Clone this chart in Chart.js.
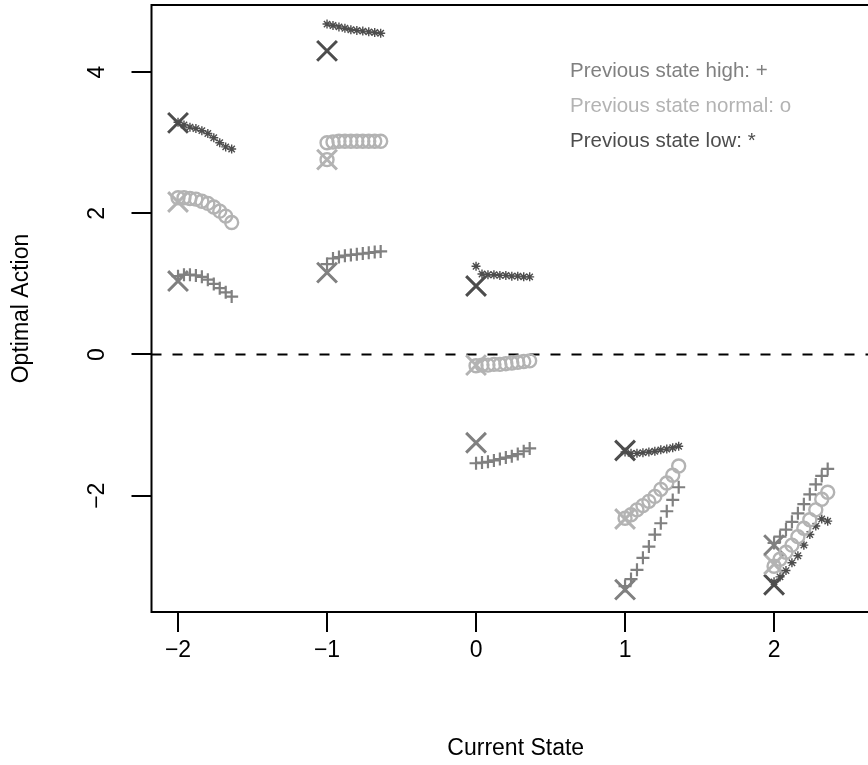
<!DOCTYPE html>
<html><head><meta charset="utf-8">
<script src="https://cdn.jsdelivr.net/npm/chart.js@4.4.0/dist/chart.umd.min.js"></script>
<style>
html,body{margin:0;padding:0;background:#fff;overflow:hidden}
#wrap{width:868px;height:765px;overflow:hidden;position:relative;background:#fff}
#box{width:900px;height:765px;position:absolute;left:0;top:0}
</style></head><body>
<div id="wrap"><div id="box"><canvas id="c"></canvas></div></div>
<script>
// ---- data ----
const states = [-2, -1, 0, 1, 2];
const xTickValues = [-2, -1, 0, 1, 2];
const yTickValues = [-2, 0, 2, 4];
const stepOffsets = [0, 0.04, 0.08, 0.12, 0.16, 0.20, 0.24, 0.28, 0.32, 0.36];

const highX   = [1.04, 1.16, -1.25, -3.33, -2.70];
const normalX = [2.16, 2.76, -0.15, -2.33, -2.97];
const lowX    = [3.28, 4.30, 0.97, -1.36, -3.26];

const highPaths = [
  [1.11, 1.13, 1.13, 1.12, 1.10, 1.06, 1.00, 0.94, 0.88, 0.82],
  [1.28, 1.36, 1.38, 1.40, 1.41, 1.42, 1.43, 1.44, 1.45, 1.46],
  [-1.54, -1.53, -1.52, -1.50, -1.48, -1.46, -1.44, -1.41, -1.37, -1.33],
  [-3.28, -3.18, -3.05, -2.88, -2.72, -2.55, -2.39, -2.22, -2.06, -1.88],
  [-2.67, -2.58, -2.48, -2.37, -2.25, -2.12, -1.98, -1.84, -1.72, -1.62]
];
const normalPaths = [
  [2.22, 2.22, 2.21, 2.20, 2.17, 2.14, 2.09, 2.03, 1.96, 1.87],
  [3.00, 3.01, 3.02, 3.02, 3.02, 3.02, 3.02, 3.02, 3.02, 3.02],
  [-0.16, -0.15, -0.15, -0.14, -0.14, -0.13, -0.12, -0.11, -0.10, -0.09],
  [-2.32, -2.27, -2.20, -2.14, -2.08, -2.01, -1.91, -1.82, -1.71, -1.58],
  [-3.00, -2.90, -2.80, -2.70, -2.58, -2.46, -2.34, -2.20, -2.05, -1.95]
];
const normalExtraStates = [-1];
const normalExtraValues = [2.76];
const lowPaths = [
  [3.29, 3.25, 3.22, 3.20, 3.17, 3.13, 3.07, 3.00, 2.94, 2.91],
  [4.68, 4.66, 4.64, 4.62, 4.60, 4.59, 4.58, 4.57, 4.56, 4.55],
  [1.25, 1.14, 1.13, 1.13, 1.12, 1.12, 1.11, 1.11, 1.10, 1.10],
  [-1.38, -1.40, -1.40, -1.39, -1.38, -1.37, -1.35, -1.34, -1.32, -1.30],
  [-3.22, -3.15, -3.06, -2.95, -2.85, -2.70, -2.55, -2.43, -2.33, -2.36]
];
const legendLabels = ['Previous state high: +', 'Previous state normal: o', 'Previous state low: *'];
const referenceLineValue = 0;

// ---- style ----
const cHigh = '#808080', cNormal = '#b3b3b3', cLow = '#4d4d4d';
const FONT = '"Liberation Sans", Arial, Helvetica, sans-serif';
Chart.defaults.font.family = FONT;

function pathPoints(paths) {
  const pts = [];
  states.forEach((s, i) => paths[i].forEach((v, k) => pts.push({x: s + stepOffsets[k], y: v})));
  return pts;
}
function markerPoints(vals) { return states.map((s, i) => ({x: s, y: vals[i]})); }
const fmt = v => (v < 0 ? '\u2212' + Math.abs(v) : String(v));

const datasets = [
  {data: pathPoints(highPaths), pointStyle: 'cross', pointRadius: 6.5, pointBorderWidth: 2.2, borderColor: cHigh, backgroundColor: cHigh},
  {data: pathPoints(normalPaths), pointStyle: 'circle', pointRadius: 6.5, pointBorderWidth: 2.4, borderColor: cNormal, backgroundColor: 'rgba(0,0,0,0)'},
  {data: normalExtraStates.map((s, i) => ({x: s, y: normalExtraValues[i]})), pointStyle: 'circle', pointRadius: 6.5, pointBorderWidth: 2.4, borderColor: cNormal, backgroundColor: 'rgba(0,0,0,0)'},
  {data: pathPoints(lowPaths), pointStyle: 'star', pointRadius: 4.5, pointBorderWidth: 1.4, borderColor: cLow, backgroundColor: cLow},
  {data: markerPoints(highX), pointStyle: 'crossRot', pointRadius: 14, pointBorderWidth: 3, borderColor: cHigh, backgroundColor: cHigh},
  {data: markerPoints(normalX), pointStyle: 'crossRot', pointRadius: 14, pointBorderWidth: 3, borderColor: cNormal, backgroundColor: cNormal},
  {data: markerPoints(lowX), pointStyle: 'crossRot', pointRadius: 14, pointBorderWidth: 3, borderColor: cLow, backgroundColor: cLow}
];

const framePlugin = {
  id: 'frame',
  beforeDatasetsDraw(chart) {
    const {ctx, chartArea: a, scales: {y}} = chart;
    const py = y.getPixelForValue(referenceLineValue);
    ctx.save();
    ctx.strokeStyle = '#000'; ctx.lineWidth = 2; ctx.setLineDash([10, 11]);
    ctx.beginPath(); ctx.moveTo(a.left, py); ctx.lineTo(a.right, py); ctx.stroke();
    ctx.restore();
  },
  afterDraw(chart) {
    const {ctx, chartArea: a} = chart;
    ctx.save();
    ctx.strokeStyle = '#000'; ctx.lineWidth = 2;
    ctx.strokeRect(a.left, a.top, a.right - a.left, a.bottom - a.top);
    ctx.font = '20.5px ' + FONT;
    ctx.textBaseline = 'middle'; ctx.textAlign = 'left';
    const cols = [cHigh, cNormal, cLow];
    const ys = [71, 106, 141];
    legendLabels.forEach((t, i) => { ctx.fillStyle = cols[i]; ctx.fillText(t, 570, ys[i]); });
    ctx.restore();
  }
};

new Chart(document.getElementById('c'), {
  type: 'scatter',
  data: {datasets},
  options: {
    responsive: true, maintainAspectRatio: false, animation: false, events: [],
    layout: {autoPadding: false, padding: {top: 5, right: 20, left: 0, bottom: 0}},
    plugins: {legend: {display: false}, tooltip: {enabled: false}},
    scales: {
      x: {
        type: 'linear', position: 'bottom', min: -2.178, max: 2.711,
        afterFit: s => { s.height = 153; s.paddingLeft = 0; s.paddingRight = 0; },
        afterBuildTicks: s => { s.ticks = xTickValues.map(v => ({value: v})); },
        grid: {drawOnChartArea: false, drawTicks: true, tickLength: 20, lineWidth: 2, tickWidth: 2, color: '#000'},
        border: {display: false},
        ticks: {color: '#000', font: {size: 23}, padding: 5, maxRotation: 0, autoSkip: false, callback: v => fmt(v)},
        title: {display: true, text: 'Current State', color: '#000', font: {size: 23}, padding: {top: 0, bottom: 3}}
      },
      y: {
        type: 'linear', position: 'left', min: -3.647, max: 4.95,
        afterFit: s => { s.width = 151.5; s.paddingTop = 0; s.paddingBottom = 0; },
        afterBuildTicks: s => { s.ticks = yTickValues.map(v => ({value: v})); },
        grid: {drawOnChartArea: false, drawTicks: true, tickLength: 20, lineWidth: 2, tickWidth: 2, color: '#000'},
        border: {display: false},
        ticks: {color: '#000', font: {size: 23}, padding: 21, minRotation: 90, maxRotation: 90, crossAlign: 'center', autoSkip: false, callback: v => fmt(v)},
        title: {display: true, text: 'Optimal Action', color: '#000', font: {size: 23}, padding: {top: 8, bottom: 0}}
      }
    }
  },
  plugins: [framePlugin]
});
</script>
</body></html>
